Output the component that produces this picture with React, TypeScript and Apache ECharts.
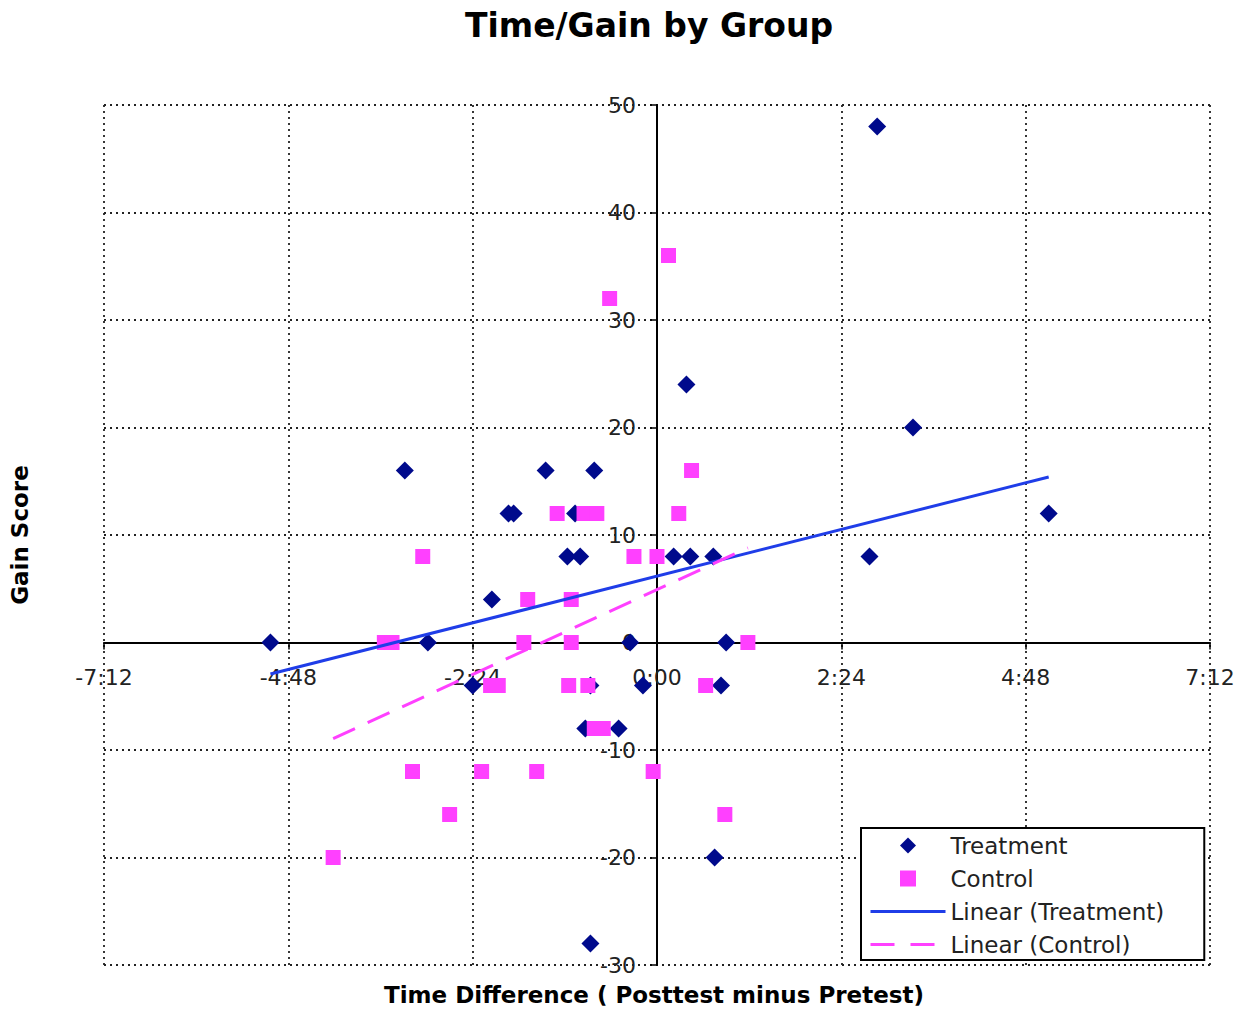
import React, { useEffect, useRef } from "react";
import * as echarts from "echarts";

// Time difference in seconds (Posttest minus Pretest), gain score
const treatX = [-302, -197, -179, -129, -144, -116, -112, -87, -70, -60, -64, -49, -52, -56, -30, -52, -21, -11, 13, 26, 44, 23, 54, 50, 45, 172, 200, 166, 306];
const treatY = [0, 16, 0, 4, -4, 12, 12, 16, 8, 8, 12, 16, -4, -8, -8, -28, 0, -4, 8, 8, 8, 24, 0, -4, -20, 48, 20, 8, 12];

const ctrlX = [-213, -207, -183, -253, -191, -162, -137, -94, -3, 53, -130, -124, -101, -104, -67, -67, -69, -54, -49, -42, -78, -57, -47, -37, 9, 17, 27, -18, 0, 38, 71];
const ctrlY = [0, 0, 8, -20, -12, -16, -12, -12, -12, -16, -4, -4, 4, 0, 4, 0, -4, -4, -8, -8, 12, 12, 12, 32, 36, 12, 16, 8, 8, -4, 0];

const xTicksSec = { min: -432, max: 432, step: 144 };
const yTicks = { min: -30, max: 50, step: 10 };

const FONT = "DejaVu Sans";
const W = 1254, H = 1009;
const G = { left: 104, right: 44, top: 105, bottom: 44 };

function fmtTime(v: number): string {
  const s = Math.round(Math.abs(v));
  const m = Math.floor(s / 60);
  const ss = s % 60;
  return (v < 0 ? "-" : "") + m + ":" + (ss < 10 ? "0" : "") + ss;
}

function trend(xs: number[], ys: number[]): number[][] {
  const n = xs.length;
  let mx = 0, my = 0;
  for (let i = 0; i < n; i++) { mx += xs[i]; my += ys[i]; }
  mx /= n; my /= n;
  let sxy = 0, sxx = 0;
  for (let i = 0; i < n; i++) { sxy += (xs[i] - mx) * (ys[i] - my); sxx += (xs[i] - mx) ** 2; }
  const b = sxy / sxx;
  const a = my - b * mx;
  const lo = Math.min(...xs), hi = Math.max(...xs);
  return [[lo, a + b * lo], [hi, a + b * hi]];
}

export default function App() {
  const ref = useRef<HTMLDivElement>(null);
  useEffect(() => {
    const chart = echarts.init(ref.current!, null, { renderer: "svg" });
    const gw = W - G.left - G.right;
    const gh = H - G.top - G.bottom;
    // place axes through the origin
    const xOff = -gh * (0 - yTicks.min) / (yTicks.max - yTicks.min);
    const yOff = -gw * (0 - xTicksSec.min) / (xTicksSec.max - xTicksSec.min);
    const grid = { color: "#222", type: [2, 4] as number[], width: 1.8 };
    const hiddenSymbol = { color: "rgba(0,0,0,0)", opacity: 0, borderWidth: 0 };
    const BLUE = "#1f3de8", PINK = "#ff40ff";
    chart.setOption({
      animation: false,
      backgroundColor: "#fff",
      grid: G,
      xAxis: {
        type: "value",
        position: "bottom",
        offset: xOff,
        min: xTicksSec.min,
        max: xTicksSec.max,
        interval: xTicksSec.step,
        axisLine: { onZero: false, lineStyle: { color: "#000", width: 2 } },
        axisTick: { show: true, length: 7, lineStyle: { color: "#000", width: 1.5 } },
        axisLabel: { formatter: fmtTime, fontFamily: FONT, fontSize: 22, color: "#222", margin: 24 },
        splitLine: { show: true, lineStyle: grid },
      },
      yAxis: {
        type: "value",
        position: "left",
        offset: yOff,
        min: yTicks.min,
        max: yTicks.max,
        interval: yTicks.step,
        axisLine: { onZero: false, lineStyle: { color: "#000", width: 2 } },
        axisTick: { show: true, length: 7, lineStyle: { color: "#000", width: 1.5 } },
        axisLabel: { fontFamily: FONT, fontSize: 22, color: "#222", margin: 21 },
        splitLine: { show: true, lineStyle: grid },
      },
      legend: {
        orient: "vertical",
        left: 861,
        top: 828,
        padding: [6, 40, 4, 8],
        borderColor: "#000",
        borderWidth: 2,
        backgroundColor: "#fff",
        itemWidth: 75,
        itemHeight: 16,
        itemGap: 10,
        textStyle: { fontFamily: FONT, fontSize: 23, color: "#222" },
        data: [
          { name: "Treatment", icon: "path://M0,-1L1,0L0,1L-1,0Z" },
          { name: "Control", icon: "path://M0,0H1V1H0Z" },
          { name: "Linear (Treatment)", itemStyle: hiddenSymbol, lineStyle: { color: BLUE, width: 3, type: "solid" } },
          { name: "Linear (Control)", itemStyle: hiddenSymbol, lineStyle: { color: PINK, width: 3, type: [24, 16] } },
        ],
      },
      graphic: [
        {
          type: "text",
          x: 649,
          y: 25,
          style: {
            text: "Time/Gain by Group",
            font: `bold 33px "${FONT}"`,
            fill: "#000",
            textAlign: "center",
            textVerticalAlign: "middle",
          },
        },
        {
          type: "text",
          x: 654,
          y: 995,
          style: {
            text: "Time Difference ( Posttest minus Pretest)",
            font: `bold 23px "${FONT}"`,
            fill: "#000",
            textAlign: "center",
            textVerticalAlign: "middle",
          },
        },
        {
          type: "text",
          x: 20,
          y: 535,
          rotation: Math.PI / 2,
          style: {
            text: "Gain Score",
            font: `bold 23px "${FONT}"`,
            fill: "#000",
            textAlign: "center",
            textVerticalAlign: "middle",
          },
        },
      ],
      series: [
        {
          name: "Treatment",
          type: "scatter",
          symbol: "diamond",
          symbolSize: 18,
          itemStyle: { color: "#000a8c", opacity: 1 },
          data: treatX.map((x, i) => [x, treatY[i]]),
          z: 3,
        },
        {
          name: "Control",
          type: "scatter",
          symbol: "rect",
          symbolSize: 15,
          itemStyle: { color: PINK, opacity: 1 },
          data: ctrlX.map((x, i) => [x, ctrlY[i]]),
          z: 3,
        },
        {
          name: "Linear (Treatment)",
          type: "line",
          symbol: "none",
          lineStyle: { color: BLUE, width: 3 },
          itemStyle: { color: BLUE },
          data: trend(treatX, treatY),
          z: 4,
        },
        {
          name: "Linear (Control)",
          type: "line",
          symbol: "none",
          lineStyle: { color: PINK, width: 3, type: [24, 14] },
          itemStyle: { color: PINK },
          data: trend(ctrlX, ctrlY),
          z: 4,
        },
      ],
    });
    return () => chart.dispose();
  }, []);
  return <div ref={ref} style={{ position: "fixed", left: 0, top: 0, width: W, height: H }} />;
}
